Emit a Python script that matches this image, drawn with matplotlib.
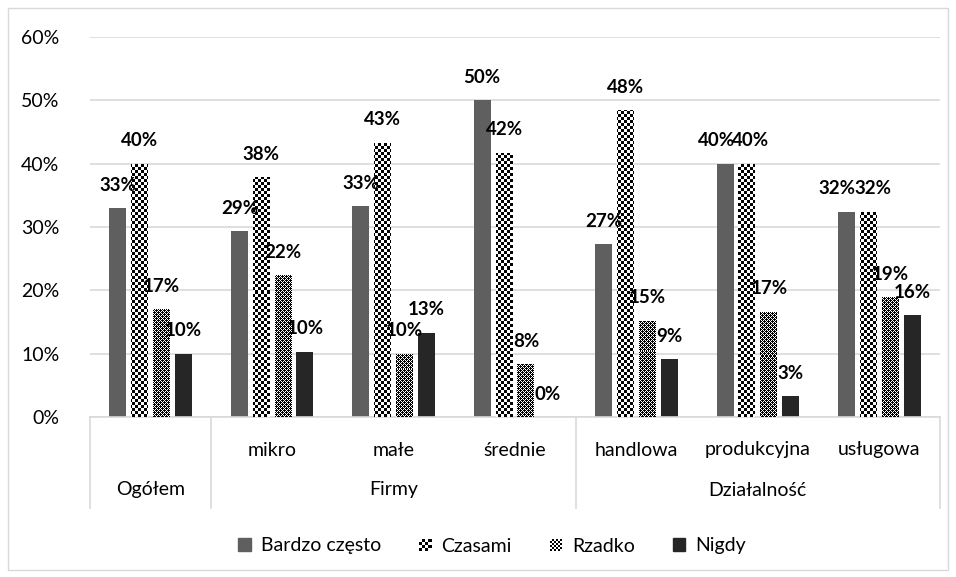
import numpy as np
import matplotlib
matplotlib.use("Agg")
import matplotlib.pyplot as plt
import matplotlib.transforms as mtransforms
from matplotlib.patches import Patch, Rectangle
from matplotlib.legend_handler import HandlerBase

plt.rcParams['font.family'] = ['Lato', 'DejaVu Sans']

# data
categories = ["Ogółem", "mikro", "małe", "średnie", "handlowa", "produkcyjna", "usługowa"]
groups = [("Ogółem", 0, 0), ("Firmy", 1, 3), ("Działalność", 4, 6)]
series = ["Bardzo często", "Czasami", "Rzadko", "Nigdy"]
bardzo = [0.33, 0.293, 0.333, 0.50, 0.273, 0.40, 0.324]
czasami = [0.40, 0.379, 0.433, 0.417, 0.484, 0.40, 0.324]
rzadko = [0.17, 0.224, 0.10, 0.083, 0.152, 0.166, 0.189]
nigdy = [0.10, 0.103, 0.133, 0.0, 0.091, 0.033, 0.161]

# labels that were nudged sideways in the original (series, category) -> px
label_nudge = {(0, 5): -9, (1, 5): 4, (0, 6): -10, (1, 6): 5}

W, H = 956, 577
fig = plt.figure(figsize=(W / 100, H / 100), dpi=100)
ax = fig.add_axes([90 / W, 1 - 417 / H, 850 / W, 380 / H])

# outer chart border
fig.patches.append(Rectangle((8 / W, 1 - 570 / H), 940 / W, 562 / H,
                             transform=fig.transFigure, fill=False,
                             edgecolor="#d9d9d9", linewidth=1))

x = np.arange(len(categories))
step, width = 0.18, 0.14
offsets = [-1.5 * step, -0.5 * step, 0.5 * step, 1.5 * step]


def checker(cell, tile=None):
    # pixel-sized texture covering the whole axes
    ny, nx = 380, 850
    jj, ii = np.meshgrid(np.arange(nx), np.arange(ny))
    if tile is None:
        pat = ((ii // cell + jj // cell) % 2).astype(float)
    else:
        tile = np.array(tile)
        pat = tile[ii % tile.shape[0], jj % tile.shape[1]].astype(float)
    return pat


tex_czasami = checker(3)
tex_rzadko = checker(0, tile=[[0, 0, 1, 0],
                              [0, 1, 0, 1],
                              [1, 0, 0, 0],
                              [0, 1, 0, 1]])

values = [bardzo, czasami, rzadko, nigdy]
colors = ["#5f5f5f", "white", "white", "#262626"]
textures = [None, tex_czasami, tex_rzadko, None]

for si, (vals, off, col, tex) in enumerate(zip(values, offsets, colors, textures)):
    bars = ax.bar(x + off, vals, width, color=col, linewidth=0, zorder=2)
    if tex is not None:
        for b in bars:
            im = ax.imshow(tex, cmap="gray", vmin=0, vmax=1, extent=(-0.5, 6.5, 0, 0.6),
                           origin="lower", interpolation="nearest", aspect="auto", zorder=3)
            im.set_clip_path(b)
    for ci, (xi, v) in enumerate(zip(x + off, vals)):
        dx = label_nudge.get((si, ci), 0) * 0.72
        ax.annotate(f"{v:.0%}", (xi, v), xytext=(dx, 16.5), textcoords="offset points",
                    ha="center", va="center", fontsize=13.5, fontweight="bold", zorder=5)

ax.set_xlim(-0.5, 6.5)
ax.set_ylim(0, 0.6)
ax.set_yticks(np.arange(0, 0.61, 0.1))
ax.set_yticklabels([f"{int(round(t * 100))}%" for t in np.arange(0, 0.61, 0.1)], fontsize=14)
ax.tick_params(axis="y", length=0, pad=22)
ax.yaxis.grid(True, color="#d9d9d9", linewidth=1.2)
ax.set_axisbelow(True)
for s in ["top", "right", "left"]:
    ax.spines[s].set_visible(False)
ax.spines["bottom"].set_color("#d9d9d9")
ax.spines["bottom"].set_linewidth(1.2)
ax.set_xticks([])

# multi-level category axis
trans = mtransforms.blended_transform_factory(ax.transData, ax.transAxes)
y_low = -(508 - 417) / 380
for xv in [-0.5, 0.5, 3.5, 6.5]:
    ax.plot([xv, xv], [0, y_low], transform=trans, color="#d9d9d9",
            linewidth=1.2, clip_on=False)
for i, c in enumerate(categories):
    if i == 0:
        continue
    ax.text(i, -(450 - 417) / 380, c, transform=trans, ha="center", va="center", fontsize=14)
for name, a, b in groups:
    ax.text((a + b) / 2, -(490 - 417) / 380, name, transform=trans,
            ha="center", va="center", fontsize=14)


class CheckerHandler(HandlerBase):
    """Legend key drawn as a small checkerboard."""
    def __init__(self, n):
        super().__init__()
        self.n = n

    def create_artists(self, legend, orig_handle, xdescent, ydescent, width, height,
                       fontsize, trans):
        size = min(width, height)
        cs = size / self.n
        x0, y0 = -xdescent, -ydescent
        arts = [Rectangle((x0, y0), size, size, facecolor="white", edgecolor="none",
                          transform=trans)]
        for i in range(self.n):
            for j in range(self.n):
                if (i + j) % 2 == 0:
                    arts.append(Rectangle((x0 + i * cs, y0 + j * cs), cs, cs,
                                          facecolor="black", edgecolor="none",
                                          transform=trans))
        return arts


# legend
h_czasami = Patch(facecolor="white")
h_rzadko = Patch(facecolor="white")
handles = [Patch(facecolor="#5f5f5f", edgecolor="#5f5f5f"), h_czasami, h_rzadko,
           Patch(facecolor="#262626", edgecolor="#262626")]
fig.legend(handles, series, loc="center", bbox_to_anchor=(492 / W, 1 - 546 / H),
           ncol=4, frameon=False, fontsize=14, handlelength=0.65, handleheight=0.65,
           handletextpad=0.5, columnspacing=1.95,
           handler_map={h_czasami: CheckerHandler(4), h_rzadko: CheckerHandler(6)})

fig.savefig("out.png", dpi=100)
